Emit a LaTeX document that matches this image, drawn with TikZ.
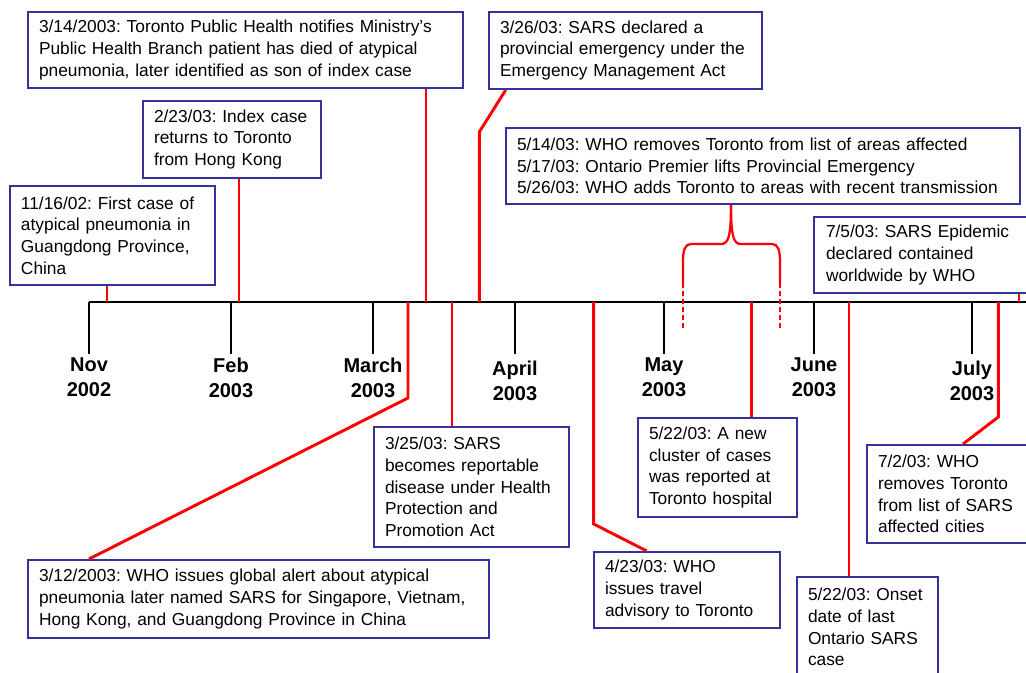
\documentclass[tikz,border=0pt]{standalone}
\usepackage{fontspec}
\setmainfont{Liberation Sans}
\definecolor{boxblue}{RGB}{51,51,153}
\definecolor{evred}{RGB}{255,0,0}
\frenchspacing
\begin{document}
\begin{tikzpicture}[x=0.75pt,y=-0.75pt,
  evbox/.style={draw=boxblue, line width=1.5pt, fill=white, anchor=north west,
    inner xsep=8.25pt, inner ysep=0pt, align=left,
    font=\fontsize{13}{16.3}\selectfont\frenchspacing},
  monthlbl/.style={anchor=north, inner sep=0pt, align=center,
    font=\bfseries\fontsize{15}{18.75}\selectfont},
  axis/.style={draw=black, line width=1.5pt},
  tick/.style={draw=black, line width=1.5pt},
  conn/.style={draw=evred, line width=2.2pt},
  thinconn/.style={draw=evred, line width=1.5pt},
  bracel/.style={draw=evred, line width=1.7pt},
  dashl/.style={draw=evred, line width=1.2pt, dash pattern=on 3.5pt off 2.5pt}
]
\useasboundingbox (0,0) rectangle (1026,673);

% timeline
\coordinate (tl0) at (89,302);
\coordinate (tl1) at (1026,302);
\draw[axis] (tl0) -- (tl1);

% month ticks and labels
\coordinate (tNov) at (89,302);
\coordinate (tFeb) at (231,302);
\coordinate (tMar) at (373,302);
\coordinate (tApr) at (515,302);
\coordinate (tMay) at (664,302);
\coordinate (tJun) at (814,302);
\coordinate (tJul) at (972,302);
\foreach \t in {tNov,tFeb,tMar,tApr,tMay,tJun,tJul}{\draw[tick] (\t) -- ++(0,52);}
\node[monthlbl] (lNov) at (89,357.5) {Nov\\2002};
\node[monthlbl] (lFeb) at (231,357.5) {Feb\\2003};
\node[monthlbl] (lMar) at (373,357.5) {March\\2003};
\node[monthlbl] (lApr) at (515,360.5) {April\\2003};
\node[monthlbl] (lMay) at (664,357.5) {May\\2003};
\node[monthlbl] (lJun) at (814,357.5) {June\\2003};
\node[monthlbl] (lJul) at (972,360.5) {July\\2003};

% event boxes
\node[evbox, minimum width=326.25pt, minimum height=57pt, text width=309.75pt] (b314) at (27,11)
  {3/14/2003: Toronto Public Health notifies Ministry’s\\Public Health Branch patient has died of atypical\\pneumonia, later identified as son of index case};
\node[evbox, minimum width=133.5pt, minimum height=57.75pt, text width=117pt] (b223) at (142,100)
  {2/23/03: Index case\\returns to Toronto\\from Hong Kong};
\node[evbox, minimum width=153.75pt, minimum height=74.25pt, text width=137.25pt] (b1116) at (9,185)
  {11/16/02: First case of\\atypical pneumonia in\\Guangdong Province,\\China};
\node[evbox, minimum width=204.75pt, minimum height=57.75pt, text width=188.25pt] (b326) at (488,11)
  {3/26/03: SARS declared a\\provincial emergency under the\\Emergency Management Act};
\node[evbox, minimum width=385.5pt, minimum height=57pt, text width=369pt] (b514) at (505,127)
  {5/14/03: WHO removes Toronto from list of areas affected\\5/17/03: Ontario Premier lifts Provincial Emergency\\5/26/03: WHO adds Toronto to areas with recent transmission};
\node[evbox, minimum width=172.5pt, minimum height=57pt, text width=156pt, inner xsep=9pt] (b75) at (813,216)
  {7/5/03: SARS Epidemic\\declared contained\\worldwide by WHO};
\node[evbox, minimum width=146.25pt, minimum height=90pt, text width=129.75pt] (b325) at (373,426)
  {3/25/03: SARS\\becomes reportable\\disease under Health\\Protection and\\Promotion Act};
\node[evbox, minimum width=345.75pt, minimum height=58.5pt, text width=329.25pt] (b312) at (27,559)
  {3/12/2003: WHO issues global alert about atypical\\pneumonia later named SARS for Singapore, Vietnam,\\Hong Kong, and Guangdong Province in China};
\node[evbox, minimum width=119.25pt, minimum height=74.25pt, text width=102.75pt] (b522a) at (637,417)
  {5/22/03: A new\\cluster of cases\\was reported at\\Toronto hospital};
\node[evbox, minimum width=139.5pt, minimum height=57pt, text width=123pt] (b423) at (593,551)
  {4/23/03: WHO\\issues travel\\advisory to Toronto};
\node[evbox, minimum width=105.75pt, minimum height=75pt, text width=89.25pt] (b522b) at (796,576)
  {5/22/03: Onset\\date of last\\Ontario SARS\\case};
\node[evbox, minimum width=127.5pt, minimum height=73.5pt, text width=111pt] (b72) at (866,444)
  {7/2/03: WHO\\removes Toronto\\from list of SARS\\affected cities};

% event points on the timeline
\coordinate (e1116) at (107,302);
\coordinate (e223) at (239,302);
\coordinate (e314) at (426,302);
\coordinate (e326) at (479.3,302);
\coordinate (k326) at (479.3,132);
\coordinate (e312) at (408,302);
\coordinate (k312) at (408,398);
\coordinate (e325) at (452,302);
\coordinate (e423) at (593.7,302);
\coordinate (k423) at (593.7,524);
\coordinate (e522a) at (751.7,302);
\coordinate (e522b) at (849,302);
\coordinate (e72) at (998.3,302);
\coordinate (k72) at (998.3,417);
\coordinate (e75) at (1019,302);

% connectors
\draw[conn] (b1116.south -| e1116) -- (e1116);
\draw[conn] (b223.south -| e223) -- (e223);
\draw[thinconn] (b314.south -| e314) -- (e314);
\draw[conn] ([xshift=13.25pt]b326.south west) -- (k326) -- (e326);
\draw[conn] (e312) -- (k312) -- ([xshift=46.5pt]b312.north west);
\draw[conn] (e325) -- (b325.north -| e325);
\draw[conn] (e423) -- (k423) -- ([xshift=40.3pt]b423.north west);
\draw[conn] (e522a) -- (b522a.north -| e522a);
\draw[conn] (e522b) -- (b522b.north -| e522b);
\draw[conn] (e72) -- (k72) -- ([xshift=72.75pt]b72.north west);
\draw[conn] (b75.south -| e75) -- (e75);

% brace under the May box
\coordinate (t514) at ([xshift=169.5pt]b514.south west);
\coordinate (bl) at (683,283);
\coordinate (br) at (780,283);
\draw[bracel] (t514) .. controls (731,238) and (728,244) .. (721,244) -- (691,244)
  .. controls (685,244) and (683,250) .. (683,262) -- (bl);
\draw[bracel] (t514) .. controls (731,238) and (734,244) .. (741,244) -- (772,244)
  .. controls (778,244) and (780,250) .. (780,262) -- (br);
\draw[dashl] (bl) -- (683,328);
\draw[dashl] (br) -- (780,328);
\end{tikzpicture}
\end{document}
